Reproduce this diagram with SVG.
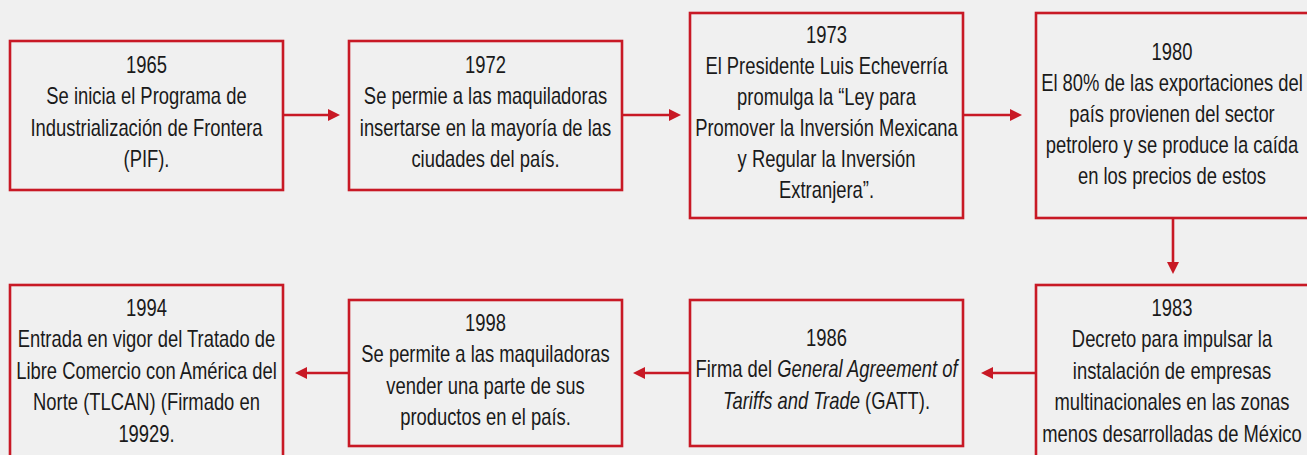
<svg xmlns="http://www.w3.org/2000/svg" width="1307" height="455" viewBox="0 0 1307 455">
<style>
.box{fill:none;stroke:#c81925;stroke-width:2.6}
.t{font-family:"Liberation Sans",Arial,sans-serif;font-size:23px;fill:#1a1a1a;text-anchor:middle}
.i{font-style:italic}
.c{fill:none;stroke:#c81925;stroke-width:2.6}
</style>
<defs>
<marker id="ah" markerUnits="userSpaceOnUse" markerWidth="14" markerHeight="14" refX="2" refY="6" orient="auto">
<path d="M0,0 L12,6 L0,12 z" fill="#c81925"/>
</marker>
</defs>
<rect width="1307" height="455" fill="#f0f0f0"/>
<g id="n1965">
<rect class="box" x="10" y="41" width="273" height="149"/>
<g transform="translate(146.5 0) scale(0.8 1)">
<text class="t" x="0" y="73">1965</text>
<text class="t" x="0" y="104.5">Se inicia el Programa de</text>
<text class="t" x="0" y="136">Industrialización de Frontera</text>
<text class="t" x="0" y="167.5">(PIF).</text>
</g>
</g>
<g id="n1972">
<rect class="box" x="349" y="41" width="273" height="149"/>
<g transform="translate(485.5 0) scale(0.8 1)">
<text class="t" x="0" y="73">1972</text>
<text class="t" x="0" y="104.5">Se permie a las maquiladoras</text>
<text class="t" x="0" y="136">insertarse en la mayoría de las</text>
<text class="t" x="0" y="167.5">ciudades del país.</text>
</g>
</g>
<g id="n1973">
<rect class="box" x="690" y="13" width="273" height="205"/>
<g transform="translate(826.5 0) scale(0.8 1)">
<text class="t" x="0" y="43">1973</text>
<text class="t" x="0" y="74">El Presidente Luis Echeverría</text>
<text class="t" x="0" y="105">promulga la “Ley para</text>
<text class="t" x="0" y="136">Promover la Inversión Mexicana</text>
<text class="t" x="0" y="167">y Regular la Inversión</text>
<text class="t" x="0" y="198">Extranjera”.</text>
</g>
</g>
<g id="n1980">
<rect class="box" x="1036" y="13" width="300" height="205"/>
<g transform="translate(1172 0) scale(0.8 1)">
<text class="t" x="0" y="60">1980</text>
<text class="t" x="0" y="91">El 80% de las exportaciones del</text>
<text class="t" x="0" y="122">país provienen del sector</text>
<text class="t" x="0" y="153">petrolero y se produce la caída</text>
<text class="t" x="0" y="184">en los precios de estos</text>
</g>
</g>
<g id="n1983">
<rect class="box" x="1036" y="285" width="300" height="200"/>
<g transform="translate(1172 0) scale(0.8 1)">
<text class="t" x="0" y="316">1983</text>
<text class="t" x="0" y="347.5">Decreto para impulsar la</text>
<text class="t" x="0" y="379">instalación de empresas</text>
<text class="t" x="0" y="410.5">multinacionales en las zonas</text>
<text class="t" x="0" y="442">menos desarrolladas de México</text>
</g>
</g>
<g id="n1986">
<rect class="box" x="690" y="300" width="273" height="146"/>
<g transform="translate(826.5 0) scale(0.8 1)">
<text class="t" x="0" y="346">1986</text>
<text class="t" x="0" y="377.5">Firma del <tspan class="i">General Agreement of</tspan></text>
<text class="t" x="0" y="409"><tspan class="i">Tariffs and Trade</tspan> (GATT).</text>
</g>
</g>
<g id="n1998">
<rect class="box" x="349" y="300" width="273" height="146"/>
<g transform="translate(485.5 0) scale(0.8 1)">
<text class="t" x="0" y="331">1998</text>
<text class="t" x="0" y="362.5">Se permite a las maquiladoras</text>
<text class="t" x="0" y="394">vender una parte de sus</text>
<text class="t" x="0" y="425.5">productos en el país.</text>
</g>
</g>
<g id="n1994">
<rect class="box" x="10" y="285" width="273" height="200"/>
<g transform="translate(146.5 0) scale(0.8 1)">
<text class="t" x="0" y="316">1994</text>
<text class="t" x="0" y="347.5">Entrada en vigor del Tratado de</text>
<text class="t" x="0" y="379">Libre Comercio con América del</text>
<text class="t" x="0" y="410.5">Norte (TLCAN) (Firmado en</text>
<text class="t" x="0" y="442">19929.</text>
</g>
</g>
<g id="connectors">
<path class="c" d="M284,115 H330" marker-end="url(#ah)"/>
<path class="c" d="M623,115 H671" marker-end="url(#ah)"/>
<path class="c" d="M964,115 H1012" marker-end="url(#ah)"/>
<path class="c" d="M1173,219 V264" marker-end="url(#ah)"/>
<path class="c" d="M1035,373 H991" marker-end="url(#ah)"/>
<path class="c" d="M689,373 H643" marker-end="url(#ah)"/>
<path class="c" d="M348,373 H305" marker-end="url(#ah)"/>
</g>
</svg>
